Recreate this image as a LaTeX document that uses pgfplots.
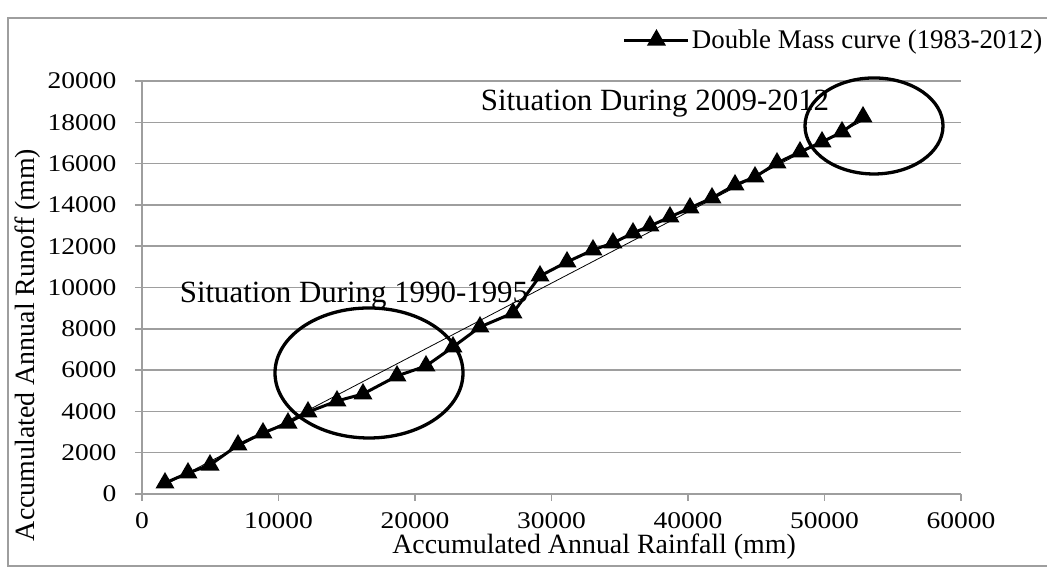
\documentclass[border=0pt]{standalone}
\usepackage{fontspec}
\setmainfont{Liberation Serif}
\newfontfamily\tickfont[FakeStretch=1.15]{Liberation Serif}
\usepackage{pgfplots}
\pgfplotsset{compat=1.18}
\definecolor{gridgray}{rgb}{0.62,0.62,0.62}
\begin{document}
\begin{tikzpicture}[x=1bp,y=1bp]
\path[use as bounding box] (-142,-77) rectangle (905,494);
\draw[gridgray, line width=1.5bp] (-134,-72) rectangle (930,476);
\begin{axis}[
  at={(0,0)}, anchor=south west,
  scale only axis, width=819bp, height=413bp,
  xmin=0, xmax=60000, ymin=0, ymax=20000,
  xtick={0,10000,...,60000}, ytick={0,2000,...,20000},
  axis x line=bottom, axis y line=left,
  axis line style={gridgray, line width=1.5bp, -},
  tick style={gridgray, line width=1.5bp},
  tick align=outside, major tick length=7bp,
  ymajorgrids, grid style={gridgray, line width=1.5bp},
  /pgf/number format/1000 sep={},
  /pgf/number format/assume math mode=true,
  scaled ticks=false,
  tick label style={font=\tickfont\fontsize{24}{24}\selectfont},
  yticklabel style={xshift=-15bp},
  xticklabel style={yshift=-8bp},
  xlabel={Accumulated Annual Rainfall (mm)},
  ylabel={Accumulated Annual Runoff (mm)},
  label style={font=\fontsize{28}{28}\selectfont},
  xlabel style={at={(axis description cs:0.552,-0.127)}, anchor=center},
  ylabel style={at={(axis description cs:-0.139,0.361)}, anchor=center, rotate=0},
  legend style={at={(axis description cs:0.587,1.099)}, anchor=west, draw=none, fill=none,
    font=\fontsize{27}{27}\selectfont, inner sep=0pt},
  legend image code/.code={\draw[mark repeat=2,mark phase=2,#1] plot coordinates {(0bp,0bp) (32bp,0bp) (64bp,0bp)};},
  clip=false,
]
\addplot[black, line width=0.8bp, forget plot] coordinates {(1685,441) (52821,18083)};
\addplot[black, line width=3bp, mark=triangle*, mark size=8bp, mark options={solid}] coordinates {
(1685,533) (3370,1017) (4982,1404) (7033,2373) (8864,2954) (10696,3438)
(12161,3971) (14286,4504) (16190,4843) (18681,5715) (20806,6199) (22784,7119)
(24762,8088) (27179,8766) (29157,10558) (31136,11236) (33040,11817) (34505,12156)
(35971,12640) (37216,12979) (38681,13415) (40147,13851) (41758,14335) (43443,14965)
(44908,15352) (46520,16030) (48205,16563) (49817,17047) (51282,17532) (52821,18258)
};
\addlegendentry{Double Mass curve (1983-2012)}
\draw[black, line width=3.3bp] (axis cs:16630,5860) ellipse [x radius=6886, y radius=3148];
\draw[black, line width=3.3bp] (axis cs:53626,17822) ellipse [x radius=5055, y radius=2325];
\node[font=\fontsize{31}{31}\selectfont] at (axis cs:37582,18888) {Situation During 2009-2012};
\node[font=\fontsize{31}{31}\selectfont] at (axis cs:15530,9589) {Situation During 1990-1995};
\end{axis}
\end{tikzpicture}
\end{document}
